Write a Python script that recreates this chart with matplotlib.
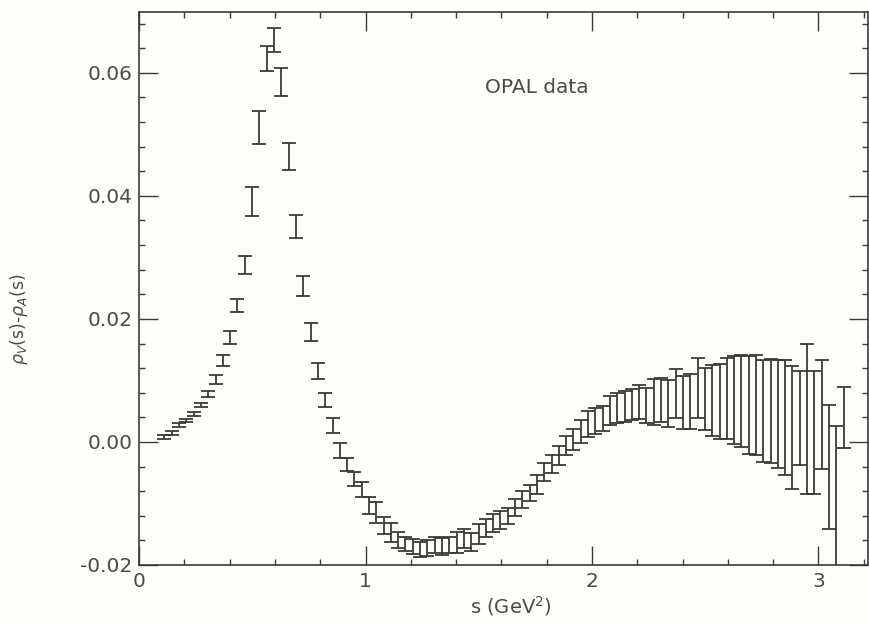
import matplotlib
matplotlib.use("Agg")
import matplotlib.pyplot as plt
from matplotlib.ticker import MultipleLocator, FormatStrFormatter

# ---- data (s in GeV^2, rho_V - rho_A, half error) ----
s_vals = [0.111, 0.143, 0.176, 0.208, 0.240, 0.272, 0.305, 0.337, 0.369, 0.402,
          0.434, 0.466, 0.499, 0.531, 0.563, 0.595, 0.628, 0.660, 0.692, 0.725,
          0.757, 0.789, 0.821, 0.854, 0.886, 0.918, 0.950, 0.983, 1.015, 1.047,
          1.079, 1.112, 1.144, 1.176, 1.208, 1.241, 1.273, 1.305, 1.337, 1.370,
          1.402, 1.434, 1.466, 1.499, 1.531, 1.563, 1.595, 1.628, 1.660, 1.692,
          1.724, 1.757, 1.789, 1.821, 1.853, 1.886, 1.918, 1.950, 1.982, 2.015,
          2.047, 2.079, 2.111, 2.144, 2.176, 2.208, 2.240, 2.273, 2.305, 2.337,
          2.369, 2.402, 2.434, 2.466, 2.498, 2.531, 2.563, 2.595, 2.627, 2.660,
          2.692, 2.724, 2.756, 2.789, 2.821, 2.853, 2.885, 2.918, 2.950, 2.982,
          3.014, 3.047, 3.079, 3.111]

rho_diff = [0.0008, 0.0015, 0.0027, 0.0035, 0.0045, 0.0060, 0.0078, 0.0101, 0.0133, 0.0170,
            0.0222, 0.0288, 0.0391, 0.0511, 0.0623, 0.0653, 0.0585, 0.0464, 0.0350, 0.0254,
            0.0179, 0.0115, 0.0068, 0.0027, -0.0014, -0.0037, -0.0060, -0.0077, -0.0103, -0.0115,
            -0.0136, -0.0147, -0.0159, -0.0166, -0.0170, -0.0175, -0.0172, -0.0167, -0.0170, -0.0167,
            -0.0163, -0.0157, -0.0163, -0.0150, -0.0140, -0.0132, -0.0127, -0.0121, -0.0107, -0.0094,
            -0.0083, -0.0069, -0.0049, -0.0036, -0.0022, -0.0006, 0.0004, 0.0017, 0.0029, 0.0034,
            0.0038, 0.0051, 0.0055, 0.0057, 0.0061, 0.0065, 0.0059, 0.0065, 0.0068, 0.0062,
            0.0079, 0.0064, 0.0066, 0.0088, 0.0070, 0.0067, 0.0066, 0.0070, 0.0068, 0.0066,
            0.0060, 0.0060, 0.0050, 0.0050, 0.0045, 0.0040, 0.0023, 0.0039, 0.0038, 0.0015,
            0.0045, -0.0041, -0.0090, 0.0040]

rho_err = [0.0003, 0.0003, 0.0003, 0.0003, 0.0003, 0.0004, 0.0005, 0.0007, 0.0009, 0.0010,
           0.0011, 0.0015, 0.0023, 0.0027, 0.0020, 0.0020, 0.0022, 0.0022, 0.0019, 0.0016,
           0.0015, 0.0013, 0.0012, 0.0012, 0.0012, 0.0011, 0.0011, 0.0012, 0.0014, 0.0017,
           0.0014, 0.0015, 0.0013, 0.0012, 0.0012, 0.0012, 0.0013, 0.0013, 0.0014, 0.0013,
           0.0017, 0.0016, 0.0015, 0.0016, 0.0015, 0.0015, 0.0015, 0.0013, 0.0014, 0.0014,
           0.0013, 0.0015, 0.0015, 0.0015, 0.0015, 0.0016, 0.0017, 0.0019, 0.0021, 0.0021,
           0.0021, 0.0023, 0.0025, 0.0025, 0.0025, 0.0028, 0.0029, 0.0038, 0.0036, 0.0038,
           0.0040, 0.0043, 0.0045, 0.0049, 0.0050, 0.0058, 0.0061, 0.0066, 0.0072, 0.0075,
           0.0080, 0.0082, 0.0083, 0.0085, 0.0088, 0.0093, 0.0100, 0.0076, 0.0122, 0.0100,
           0.0089, 0.0101, 0.0116, 0.0050]

x_ticks = [0, 1, 2, 3]
y_ticks = [-0.02, 0.00, 0.02, 0.04, 0.06]

plt.rcParams['font.family'] = ['DejaVu Sans']
plt.rcParams['axes.unicode_minus'] = False
plt.rcParams['mathtext.fontset'] = 'dejavusans'

ink = '#3a3a3a'
txt = '#4a4a4a'
fig = plt.figure(figsize=(8.7, 6.25), dpi=100, facecolor='#fffffa')
ax = fig.add_axes([0.160, 0.096, 0.838, 0.885])
ax.set_facecolor('#fffffa')

ax.errorbar(s_vals, rho_diff, yerr=rho_err, fmt='none', ecolor=ink,
            elinewidth=1.3, capsize=5, capthick=1.3)

ax.set_xlim(0, 3.22)
ax.set_ylim(-0.02, 0.0699)
ax.set_xticks(x_ticks)
ax.set_yticks(y_ticks)
ax.xaxis.set_minor_locator(MultipleLocator(0.2))
ax.yaxis.set_minor_locator(MultipleLocator(0.004))
ax.yaxis.set_major_formatter(FormatStrFormatter('%.2f'))
ax.xaxis.set_major_formatter(FormatStrFormatter('%d'))

ax.tick_params(which='both', direction='in', top=True, right=True,
               color=ink, width=1.0, labelcolor=txt, labelsize=14.5)
ax.tick_params(axis='y', pad=5)
ax.tick_params(axis='x', pad=5)
ax.tick_params(which='major', length=14)
ax.tick_params(which='minor', length=4.5)
for sp in ax.spines.values():
    sp.set_color(ink)
    sp.set_linewidth(1.2)

ax.set_xlabel(r's (GeV$^2$)', fontsize=14, color=txt)
ax.set_ylabel(r'$\rho_V$(s)-$\rho_A$(s)', fontsize=12.5, color=txt)
ax.yaxis.set_label_coords(-0.150, 0.445)
ax.xaxis.set_label_coords(0.51, -0.052)

ax.text(0.474, 0.863, 'OPAL data', transform=ax.transAxes, fontsize=14.5,
        color=txt, ha='left', va='center')

fig.savefig('out.png', dpi=100, facecolor=fig.get_facecolor())
